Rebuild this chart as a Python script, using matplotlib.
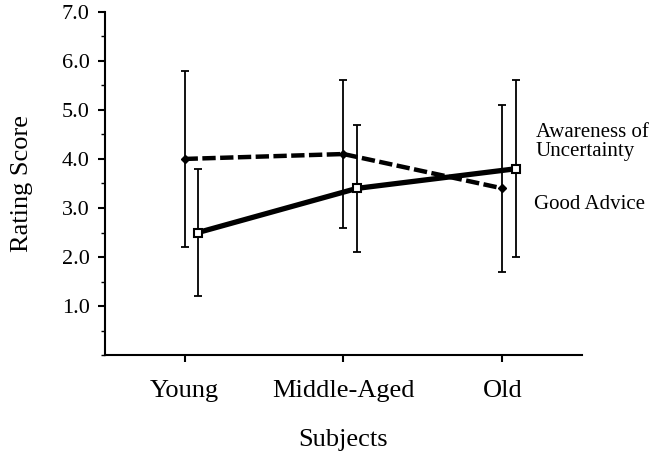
import numpy as np
import matplotlib.pyplot as plt
from matplotlib.ticker import MultipleLocator, FixedLocator

groups = ["Young", "Middle-Aged", "Old"]

# Good Advice (dashed line, diamonds)
advice_mean = [4.0, 4.1, 3.4]
advice_low = [2.2, 2.6, 1.7]
advice_high = [5.8, 5.6, 5.1]

# Awareness of Uncertainty (solid line, squares)
aware_mean = [2.5, 3.4, 3.8]
aware_low = [1.2, 2.1, 2.0]
aware_high = [3.8, 4.7, 5.6]

plt.rcParams["font.family"] = ["Liberation Serif", "DejaVu Serif"]

fig = plt.figure(figsize=(6.53, 4.53), dpi=100)
ax = fig.add_axes([0.161, 0.216, 0.730, 0.758])

x = np.arange(len(groups))
shift = 0.085

adv_err = [np.subtract(advice_mean, advice_low), np.subtract(advice_high, advice_mean)]
awr_err = [np.subtract(aware_mean, aware_low), np.subtract(aware_high, aware_mean)]

ax.errorbar(x, advice_mean, yerr=adv_err, fmt="none", ecolor="black",
            elinewidth=1.3, capsize=3, capthick=1.3, zorder=2)
ax.plot(x, advice_mean, color="black", linestyle=(0, (3, 1)), linewidth=3.2,
        marker="D", markersize=4, markerfacecolor="black", zorder=3)

ax.errorbar(x + shift, aware_mean, yerr=awr_err, fmt="none", ecolor="black",
            elinewidth=1.3, capsize=3, capthick=1.3, zorder=2)
ax.plot(x + shift, aware_mean, color="black", linestyle="-", linewidth=3.8,
        marker="s", markersize=6, markerfacecolor="white", markeredgewidth=1.5,
        zorder=3)

ax.text(2.21, 4.35, "Awareness of\nUncertainty", fontsize=15, ha="left",
        va="center", linespacing=1.0)
ax.text(2.20, 3.08, "Good Advice", fontsize=15, ha="left", va="center")

ax.set_xlim(-0.5, 2.5)
ax.set_ylim(0, 7.0)
ax.set_xticks(x)
ax.set_xticklabels(groups, fontsize=19)
ax.yaxis.set_major_locator(FixedLocator([1, 2, 3, 4, 5, 6, 7]))
ax.yaxis.set_minor_locator(MultipleLocator(0.5))
ax.set_yticklabels([f"{v:.1f}" for v in range(1, 8)], fontsize=16)

ax.tick_params(axis="y", which="major", direction="out", length=5, width=1.5, pad=6)
ax.tick_params(axis="y", which="minor", direction="out", length=3, width=1)
ax.tick_params(axis="x", which="major", direction="out", length=5, width=1.5, pad=13)

ax.spines["top"].set_visible(False)
ax.spines["right"].set_visible(False)
ax.spines["left"].set_linewidth(1.5)
ax.spines["bottom"].set_linewidth(1.5)

ax.set_xlabel("Subjects", fontsize=19, labelpad=19)
ax.set_ylabel("Rating Score", fontsize=19, labelpad=21)

fig.savefig("out.png", dpi=100)
